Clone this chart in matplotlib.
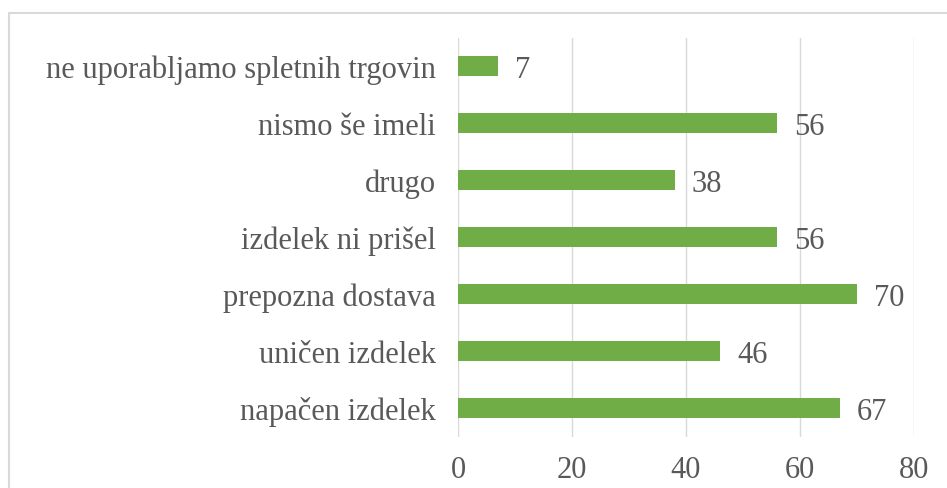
import matplotlib
matplotlib.use("Agg")
from matplotlib import pyplot as plt
from matplotlib.patches import Rectangle

# data (top to bottom as shown)
categories = [
    "ne uporabljamo spletnih trgovin",
    "nismo še imeli",
    "drugo",
    "izdelek ni prišel",
    "prepozna dostava",
    "uničen izdelek",
    "napačen izdelek",
]
values = [7, 56, 38, 56, 70, 46, 67]
xticks = [0, 20, 40, 60, 80]

bar_color = "#70AD47"
text_color = "#595959"
grid_color = "#D9D9D9"
fs = 22

plt.rcParams["font.family"] = ["Liberation Serif", "DejaVu Serif"]

W, H = 947, 489
fig = plt.figure(figsize=(W / 100, H / 100), dpi=100)

# outer chart border (cut off at right and bottom in the reference)
fig.patches.append(Rectangle((9 / W, -0.1), 1.1, (H - 14) / H + 0.1,
                             transform=fig.transFigure, fill=False,
                             edgecolor=grid_color, lw=1.5))

ax = fig.add_axes([458 / W, (H - 437.5) / H, (914 - 458) / W, 399 / H])

ypos = list(range(len(categories)))
ax.barh(ypos, values, height=0.35, color=bar_color, zorder=3)
for y, v in zip(ypos, values):
    ax.text(v + 3, y, str(v), va="center_baseline", ha="left",
            fontsize=fs, color=text_color)

ax.set_ylim(len(categories) - 0.5, -0.5)
ax.set_xlim(0, 80)
ax.set_yticks(ypos)
ax.set_yticklabels(categories)
ax.set_xticks(xticks)
ax.tick_params(axis="both", length=0, labelsize=fs, labelcolor=text_color)
ax.tick_params(axis="y", pad=16)
ax.tick_params(axis="x", pad=13)
ax.grid(axis="x", color=grid_color, lw=1, zorder=0)
for s in ax.spines.values():
    s.set_visible(False)

fig.savefig("out.png", dpi=100)
